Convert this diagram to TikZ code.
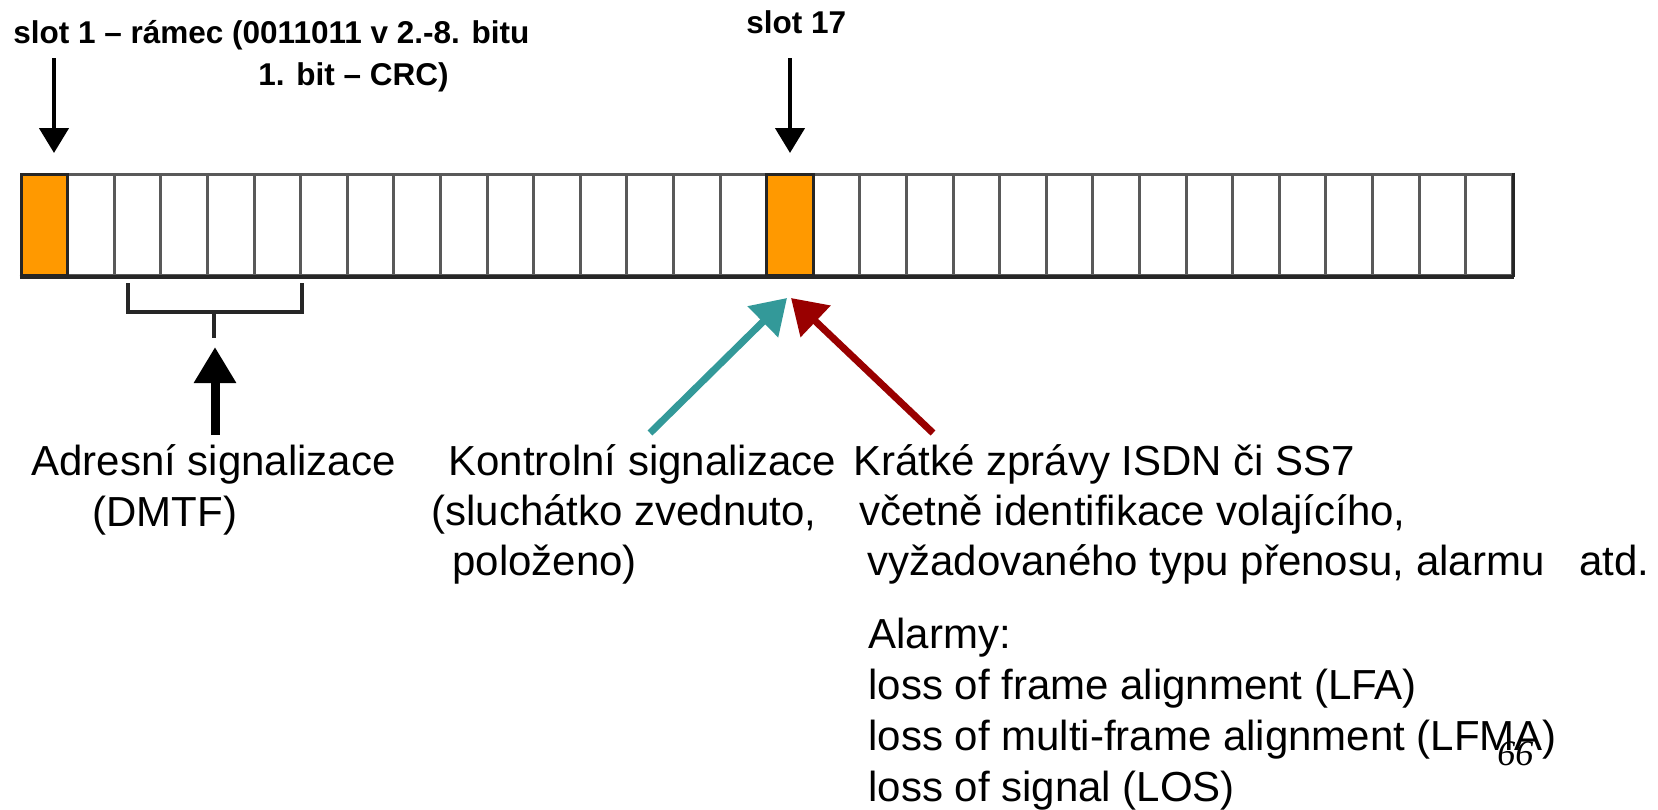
\documentclass[tikz,border=0pt]{standalone}
\usepackage{fontspec}
\setmainfont{Liberation Sans}
\newfontfamily\pagefont{Liberation Serif}
\usetikzlibrary{arrows.meta}
\definecolor{slotorange}{RGB}{255,153,0}
\definecolor{ctrlteal}{RGB}{51,153,153}
\definecolor{msgred}{RGB}{153,0,0}
\tikzset{
  cellbox/.style={draw=gray!70!black, line width=1.5pt, fill=white,
    inner sep=0pt, minimum width=23.3pt, minimum height=50.5pt},
  slotbox/.style={cellbox, draw=black!85, fill=slotorange},
  txt/.style={anchor=base west, inner sep=0pt,
    font=\fontsize{21pt}{25pt}\selectfont},
  lbl/.style={anchor=base west, inner sep=0pt,
    font=\fontsize{15.75pt}{19pt}\selectfont\bfseries},
  slotarrow/.style={line width=2.25pt,
    -{Triangle[width=14.5pt,length=12.5pt]}},
  bigarrow/.style={line width=4.5pt,
    -{Triangle[width=20pt,length=18pt]}},
  sigarrow/.style={line width=3.5pt,
    -{Triangle[width=21pt,length=17pt]}},
  bracket/.style={line width=2pt, black!85}
}
\begin{document}
\begin{tikzpicture}[x=0.5pt,y=-0.5pt]
  \useasboundingbox[fill=white] (0,0) rectangle (1658,809);
  \pgfmathsetmacro{\xl}{21}
  \pgfmathsetmacro{\cw}{46.6}
  \pgfmathsetmacro{\ym}{224.5}
  % ramec -- 32 slotu
  \foreach \i in {0,...,31}
    \node[cellbox] (c\i) at ({\xl+(\i+0.5)*\cw}, \ym) {};
  \node[slotbox] (s1) at (c0.center) {};
  \node[slotbox] (s17) at (c16.center) {};
  \draw[line width=2pt, black!85] (c0.south west) -- (c31.south east);
  \draw[line width=1.5pt, black!85] (c31.north east) -- (c31.south east);
  % popisky nahore
  \node[lbl] (lab1) at (13,43) {slot 1 -- rámec (0011011 v 2.-8. bitu};
  \node[lbl] (lab1b) at (258,85) {1. bit -- CRC)};
  \node[lbl] (lab17) at (746,33) {slot 17};
  \coordinate (a1) at (54,58);
  \coordinate (t1) at (54,153);
  \draw[slotarrow] (a1) -- (t1);
  \coordinate (a17) at (790,58);
  \coordinate (t17) at (790,153);
  \draw[slotarrow] (a17) -- (t17);
  % adresni signalizace
  \coordinate (bl) at (128,283);
  \coordinate (br) at (302,283);
  \coordinate (bm) at (214,312);
  \coordinate (bs) at (214,338);
  \draw[bracket] (bl) |- (bm) -| (br);
  \draw[bracket] (bm) -- (bs);
  \coordinate (dtail) at (215,435);
  \coordinate (dtip) at (215,347);
  \draw[bigarrow] (dtail) -- (dtip);
  \node[txt] (adr1) at (31,475) {Adresní signalizace};
  \node[txt] (adr2) at (92,526) {(DMTF)};
  % kontrolni signalizace a zpravy
  \coordinate (ktail) at (650,433);
  \coordinate (ktip) at (787,298);
  \draw[sigarrow, ctrlteal] (ktail) -- (ktip);
  \coordinate (rtail) at (933,433);
  \coordinate (rtip) at (791,298);
  \draw[sigarrow, msgred] (rtail) -- (rtip);
  \node[txt] (kon1) at (448,475) {Kontrolní signalizace};
  \node[txt] (kon2) at (431,525) {(sluchátko zvednuto,};
  \node[txt] (kon3) at (452,575) {položeno)};
  \node[txt] (kra1) at (853,475) {Krátké zprávy ISDN či SS7};
  \node[txt] (kra2) at (859,525) {včetně identifikace volajícího,};
  \node[txt] (kra3) at (867,575) {vyžadovaného typu přenosu, alarmu\ \ \ atd.};
  \node[txt] (alm1) at (868,648) {Alarmy:};
  \node[txt] (alm2) at (868,699) {loss of frame alignment (LFA)};
  \node[txt] (alm3) at (868,750) {loss of multi-frame alignment (LFMA)};
  \node[txt] (alm4) at (868,801) {loss of signal (LOS)};
  \node[anchor=base west, inner sep=0pt,
    font=\pagefont\itshape\fontsize{18pt}{18pt}\selectfont] (pg) at (1497,765) {66};
\end{tikzpicture}
\end{document}
